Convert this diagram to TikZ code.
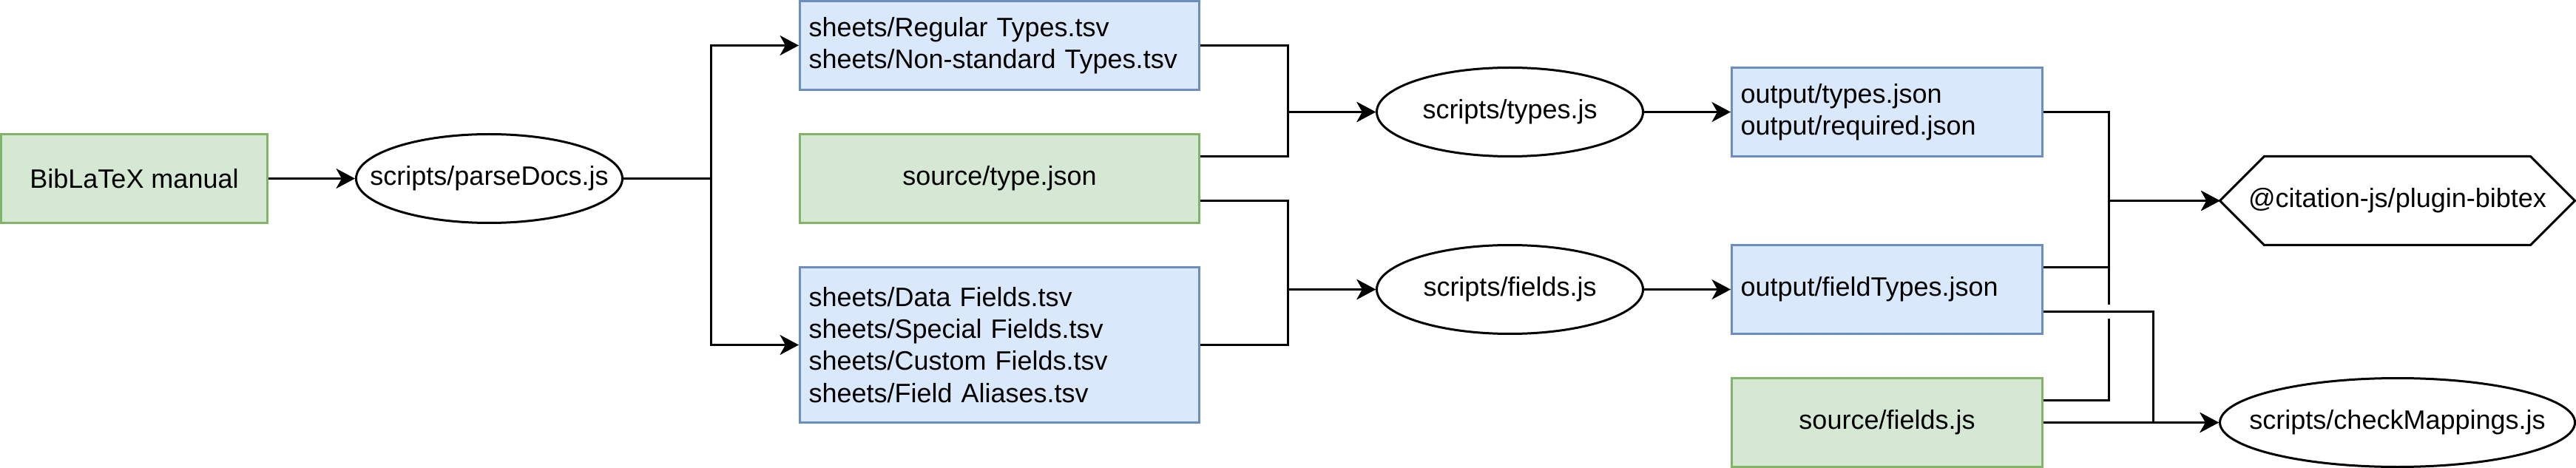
\documentclass[tikz,border=0pt]{standalone}
\usepackage{fontspec}
\setmainfont{Liberation Sans}
\usepackage{tikz}
\usetikzlibrary{arrows.meta,shapes.geometric}
\definecolor{srcgreen}{HTML}{D5E8D4}
\definecolor{srcgreenline}{HTML}{82B366}
\definecolor{sheetblue}{HTML}{DAE8FC}
\definecolor{sheetblueline}{HTML}{6C8EBF}

\begin{document}
\begin{tikzpicture}[x=1pt,y=-1pt,line width=1pt,
  font=\fontsize{12}{14.4}\selectfont,
  src/.style={draw=srcgreenline,fill=srcgreen,minimum height=40pt,inner sep=0pt},
  sheet/.style={draw=sheetblueline,fill=sheetblue,align=left,inner xsep=4pt,inner ysep=0pt,minimum height=40pt},
  proc/.style={draw,ellipse,minimum width=120pt,minimum height=40pt,inner sep=0pt},
  flow/.style={-{Stealth[length=8.5pt,width=9pt,inset=2.5pt]}}]
  \useasboundingbox (-0.5,-0.5) rectangle (1160.5,210.5);
  % parsing the manual
  \node[src,minimum width=120pt] (manual) at (60,80) {BibLaTeX manual};
  \node[proc,label=center:scripts/parseDocs.js] (parse) at (220,80) {};
  \node[sheet,text width=172pt] (regular) at (450,20) {sheets/Regular Types.tsv\\sheets/Non-standard Types.tsv};
  \node[src,minimum width=180pt] (typejson) at (450,80) {source/type.json};
  \node[sheet,text width=172pt,minimum height=70pt] (fieldsheets) at (450,155) {sheets/Data Fields.tsv\\sheets/Special Fields.tsv\\sheets/Custom Fields.tsv\\sheets/Field Aliases.tsv};
  % scripts
  \node[proc,label=center:scripts/types.js] (types) at (680,50) {};
  \node[proc,label=center:scripts/fields.js] (fieldsjs) at (680,130) {};
  % outputs
  \node[sheet,text width=132pt] (outtypes) at (850,50) {output/types.json\\output/required.json};
  \node[sheet,text width=132pt] (fieldtypes) at (850,130) {output/fieldTypes.json};
  \node[src,minimum width=140pt] (srcfields) at (850,190) {source/fields.js};
  \node[minimum width=160pt,minimum height=40pt,inner sep=0pt,outer sep=0pt] (plugin) at (1080,90) {@citation-js/plugin-bibtex};
  \draw ([xshift=20pt]plugin.north west) -- ([xshift=-20pt]plugin.north east) -- (plugin.east)
    -- ([xshift=-20pt]plugin.south east) -- ([xshift=20pt]plugin.south west) -- (plugin.west) -- cycle;
  \node[proc,minimum width=160pt,label=center:scripts/checkMappings.js] (check) at (1080,190) {};

  \coordinate (j1) at (320,80);
  \coordinate (j2) at (580,50);
  \coordinate (j3) at (580,130);
  \coordinate (j4) at (950,90);
  \coordinate (j5) at (970,190);
  \coordinate (gaplo) at (950,143);
  \coordinate (gaphi) at (950,137);

  \draw[flow] (manual) -- (parse);
  \draw[flow] (parse.east) -- (j1) |- (regular.west);
  \draw[flow] (parse.east) -- (j1) |- (fieldsheets.west);
  \draw[flow] (regular.east) -| (j2) -- (types.west);
  \draw[flow] ([yshift=10pt]typejson.east) -| (j2) -- (types.west);
  \draw[flow] ([yshift=-10pt]typejson.east) -| (j3) -- (fieldsjs.west);
  \draw[flow] (fieldsheets.east) -| (j3) -- (fieldsjs.west);
  \draw[flow] (types) -- (outtypes);
  \draw[flow] (fieldsjs) -- (fieldtypes);
  \draw[flow] (outtypes.east) -| (j4) -- (plugin.west);
  \draw[flow] ([yshift=10pt]fieldtypes.east) -| (j4) -- (plugin.west);
  % line jump
  \draw ([yshift=10pt]srcfields.east) -| (gaplo);
  \draw[flow] (gaphi) |- (plugin.west);
  \draw[flow] ([yshift=-10pt]fieldtypes.east) -| (j5) -- (check.west);
  \draw[flow] (srcfields) -- (check);
\end{tikzpicture}
\end{document}
